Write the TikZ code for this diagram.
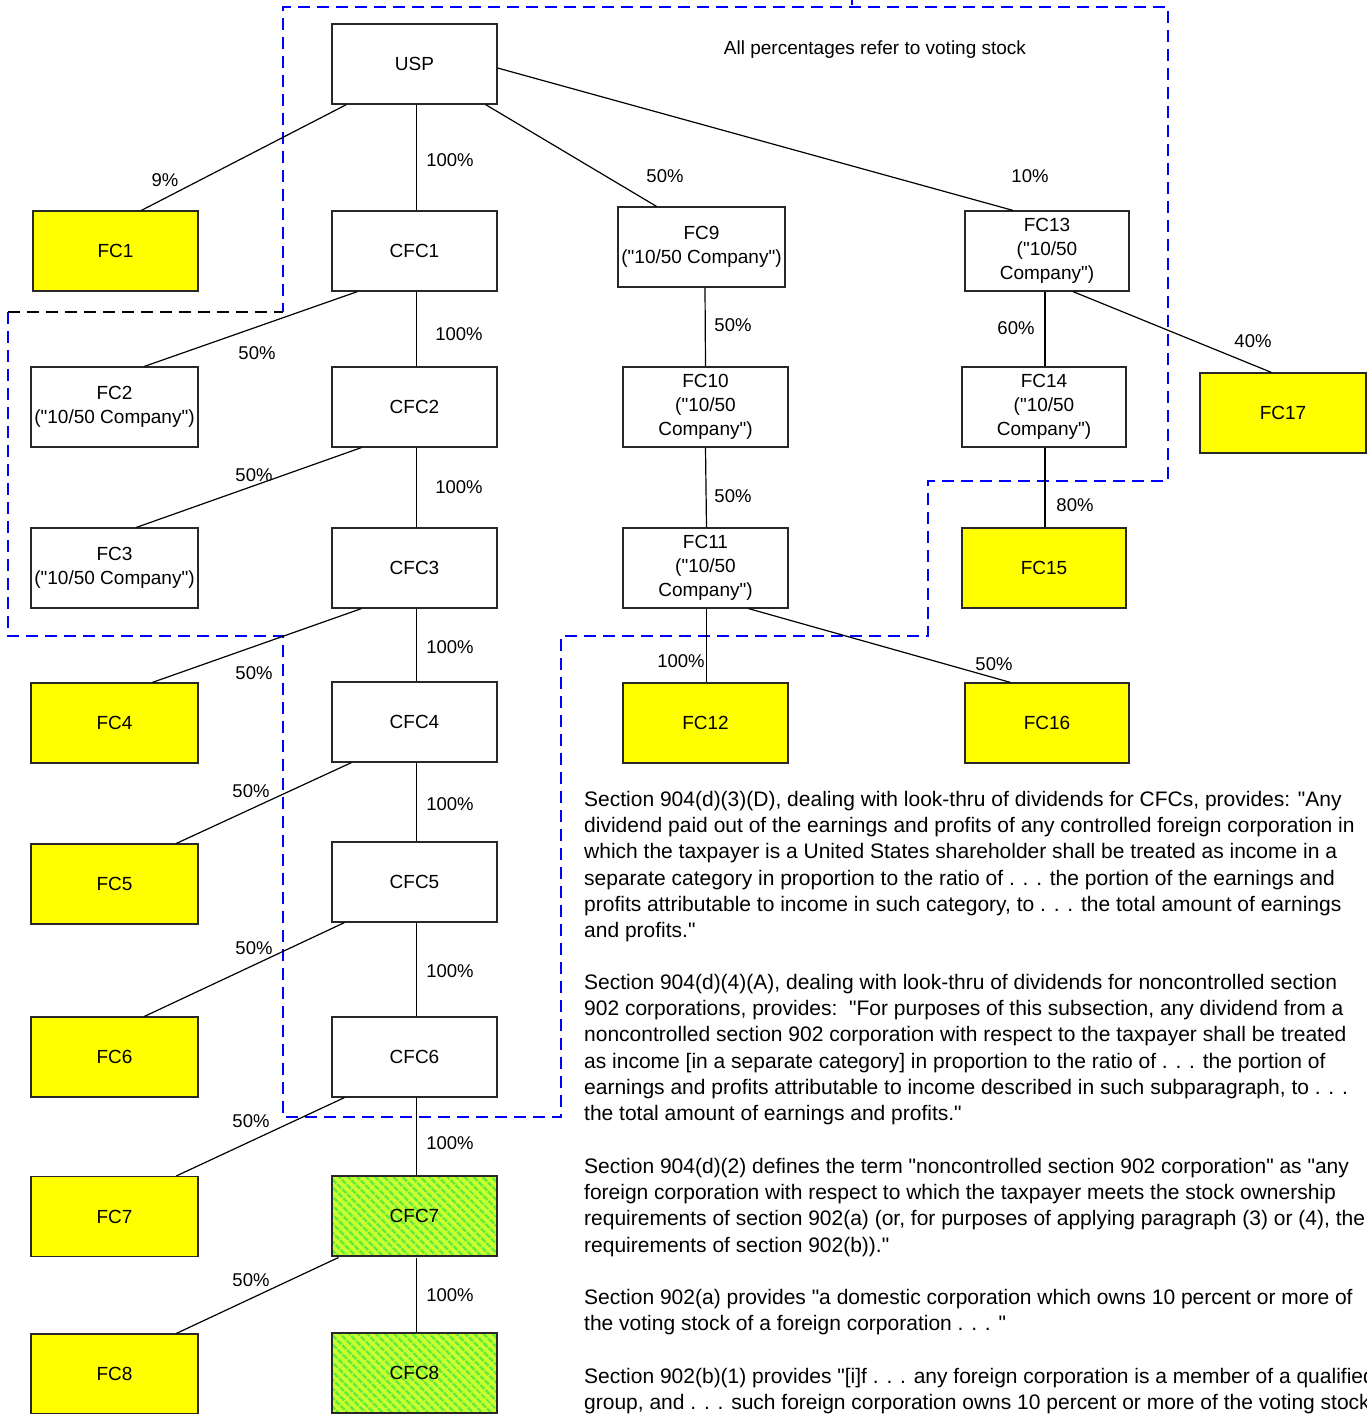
\documentclass[tikz,border=0pt]{standalone}
\usepackage{fontspec}
\setmainfont{Liberation Sans}[Ligatures=TeXOff]
\usetikzlibrary{patterns.meta}
\definecolor{fcyellow}{RGB}{255,255,0}
\definecolor{hatchbg}{RGB}{200,255,45}
\definecolor{hatchfg}{RGB}{100,235,55}
\definecolor{dashblue}{RGB}{0,0,255}
\definecolor{boxline}{RGB}{40,40,40}
\begin{document}
\begin{tikzpicture}[x=1pt,y=-1pt,
  box/.style={draw=boxline, line width=1.2pt, minimum width=165pt, minimum height=80pt,
    inner sep=0pt, align=center, font=\fontsize{19}{24}\selectfont},
  ybox/.style={box, fill=fcyellow},
  hbox/.style={box, preaction={fill=hatchbg},
    pattern={Lines[angle=-45,distance=6.5pt,line width=3pt]}, pattern color=hatchfg},
  conn/.style={draw=black, line width=1.2pt},
  pct/.style={inner sep=0pt, font=\fontsize{18.5}{22}\selectfont},
  para/.style={inner sep=0pt, anchor=north west, align=left, font=\fontsize{21}{26.2}\selectfont},
  bdash/.style={draw=dashblue, line width=2.6pt, dash pattern=on 12pt off 7pt},
  kdash/.style={draw=black, line width=2.6pt, dash pattern=on 12pt off 7pt}
]
\useasboundingbox (0,0) rectangle (1367,1414);

% dashed outlines
\draw[bdash] (8,312) -- (8,636) -- (283,636) -- (283,1117) -- (561,1117) -- (561,636)
  -- (928,636) -- (928,481) -- (1168,481) -- (1168,7) -- (283,7) -- (283,312);
\draw[kdash] (8,312) -- (283,312);
\draw[dashblue, line width=2.6pt] (852,0) -- (852,5);

% nodes
\node[box] (USP) at (414.5,64) {USP};
\node[ybox] (FC1) at (115.5,251) {FC1};
\node[box] (CFC1) at (414.5,251) {CFC1};
\node[box, minimum width=167pt] (FC9) at (701.5,247) {FC9\\("10/50 Company")};
\node[box, minimum width=164pt] (FC13) at (1047,251) {FC13\\("10/50\\Company")};
\node[box, minimum width=167pt] (FC2) at (114.5,407) {FC2\\("10/50 Company")};
\node[box] (CFC2) at (414.5,407) {CFC2};
\node[box] (FC10) at (705.5,407) {FC10\\("10/50\\Company")};
\node[box, minimum width=164pt] (FC14) at (1044,407) {FC14\\("10/50\\Company")};
\node[ybox, minimum width=166pt] (FC17) at (1283,413) {FC17};
\node[box, minimum width=167pt] (FC3) at (114.5,568) {FC3\\("10/50 Company")};
\node[box] (CFC3) at (414.5,568) {CFC3};
\node[box] (FC11) at (705.5,568) {FC11\\("10/50\\Company")};
\node[ybox, minimum width=164pt] (FC15) at (1044,568) {FC15};
\node[ybox, minimum width=167pt] (FC4) at (114.5,723) {FC4};
\node[box] (CFC4) at (414.5,722) {CFC4};
\node[ybox] (FC12) at (705.5,723) {FC12};
\node[ybox, minimum width=164pt] (FC16) at (1047,723) {FC16};
\node[ybox, minimum width=167pt] (FC5) at (114.5,884) {FC5};
\node[box] (CFC5) at (414.5,882) {CFC5};
\node[ybox, minimum width=167pt] (FC6) at (114.5,1057) {FC6};
\node[box] (CFC6) at (414.5,1057) {CFC6};
\node[ybox, minimum width=167pt] (FC7) at (114.5,1216.5) {FC7};
\node[hbox] (CFC7) at (414.5,1216) {CFC7};
\node[ybox, minimum width=167pt] (FC8) at (114.5,1374) {FC8};
\node[hbox] (CFC8) at (414.5,1373) {CFC8};

% connectors
\draw[conn] ([xshift=15pt]USP.south west) -- ([xshift=109pt]FC1.north west);
\draw[conn] ([xshift=2pt]USP.south) -- ([xshift=2pt]CFC1.north);
\draw[conn] ([xshift=-12pt]USP.south east) -- ([xshift=-45pt]FC9.north);
\draw[conn] ([yshift=-4pt]USP.east) -- ([xshift=-34pt]FC13.north);
\draw[conn] ([xshift=26pt]CFC1.south west) -- ([xshift=114pt]FC2.north west);
\draw[conn] ([xshift=2pt]CFC1.south) -- ([xshift=2pt]CFC2.north);
\draw[conn] ([xshift=30pt]CFC2.south west) -- ([xshift=106pt]FC3.north west);
\draw[conn] ([xshift=2pt]CFC2.south) -- ([xshift=2pt]CFC3.north);
\draw[conn] ([xshift=30pt]CFC3.south west) -- ([xshift=122pt]FC4.north west);
\draw[conn] ([xshift=2pt]CFC3.south) -- ([xshift=2pt]CFC4.north);
\draw[conn] ([xshift=20pt]CFC4.south west) -- ([xshift=146pt]FC5.north west);
\draw[conn] ([xshift=2pt]CFC4.south) -- ([xshift=2pt]CFC5.north);
\draw[conn] ([xshift=13pt]CFC5.south west) -- ([xshift=114pt]FC6.north west);
\draw[conn] ([xshift=2pt]CFC5.south) -- ([xshift=2pt]CFC6.north);
\draw[conn] ([xshift=13pt]CFC6.south west) -- ([xshift=146pt]FC7.north west);
\draw[conn] ([xshift=2pt]CFC6.south) -- ([xshift=2pt]CFC7.north);
\draw[conn] ([xshift=8pt]CFC7.south west) -- ([xshift=146pt]FC8.north west);
\draw[conn] ([xshift=2pt]CFC7.south) -- ([xshift=2pt]CFC8.north);
\draw[conn] ([xshift=3.5pt]FC9.south) -- (FC10.north);
\draw[conn] (FC10.south) -- ([xshift=1pt]FC11.north);
\draw[conn] ([xshift=1pt]FC11.south) -- ([xshift=1pt]FC12.north);
\draw[conn] ([xshift=-40pt]FC11.south east) -- ([xshift=46pt]FC16.north west);
\draw[conn] ([xshift=-2pt]FC13.south) -- ([xshift=1pt]FC14.north);
\draw[conn] ([xshift=26pt]FC13.south) -- ([xshift=72pt]FC17.north west);
\draw[conn] ([xshift=1pt]FC14.south) -- ([xshift=1pt]FC15.north);

% percentage labels
\node[pct] (l1) at (165,180) {9\%};
\node[pct] (l2) at (450,160) {100\%};
\node[pct] (l3) at (665,176) {50\%};
\node[pct] (l4) at (1030,176) {10\%};
\node[pct] (l5) at (257,353) {50\%};
\node[pct] (l6) at (459,334) {100\%};
\node[pct] (l7) at (254,475) {50\%};
\node[pct] (l8) at (459,487) {100\%};
\node[pct] (l9) at (254,673) {50\%};
\node[pct] (l10) at (450,647) {100\%};
\node[pct] (l11) at (251,791) {50\%};
\node[pct] (l12) at (450,804) {100\%};
\node[pct] (l13) at (254,948) {50\%};
\node[pct] (l14) at (450,971) {100\%};
\node[pct] (l15) at (251,1121) {50\%};
\node[pct] (l16) at (450,1143) {100\%};
\node[pct] (l17) at (251,1280) {50\%};
\node[pct] (l18) at (450,1295) {100\%};
\node[pct] (l19) at (733,325) {50\%};
\node[pct] (l20) at (733,496) {50\%};
\node[pct] (l21) at (681,661) {100\%};
\node[pct] (l22) at (994,664) {50\%};
\node[pct] (l23) at (1016,328) {60\%};
\node[pct] (l24) at (1253,341) {40\%};
\node[pct] (l25) at (1075,505) {80\%};

\node[pct, font=\fontsize{19}{22}\selectfont] (note) at (875,50) {All percentages refer to voting stock};

% paragraphs
\node[para] (p1) at (584,791) {Section 904(d)(3)(D), dealing with look-thru of dividends for CFCs, provides: "Any\\
dividend paid out of the earnings and profits of any controlled foreign corporation in\\
which the taxpayer is a United States shareholder shall be treated as income in a\\
separate category in proportion to the ratio of . . . the portion of the earnings and\\
profits attributable to income in such category, to . . . the total amount of earnings\\
and profits."};
\node[para] (p2) at (584,974) {Section 904(d)(4)(A), dealing with look-thru of dividends for noncontrolled section\\
902 corporations, provides:\ \ "For purposes of this subsection, any dividend from a\\
noncontrolled section 902 corporation with respect to the taxpayer shall be treated\\
as income [in a separate category] in proportion to the ratio of . . . the portion of\\
earnings and profits attributable to income described in such subparagraph, to . . .\\
the total amount of earnings and profits."};
\node[para] (p3) at (584,1158) {Section 904(d)(2) defines the term "noncontrolled section 902 corporation" as "any\\
foreign corporation with respect to which the taxpayer meets the stock ownership\\
requirements of section 902(a) (or, for purposes of applying paragraph (3) or (4), the\\
requirements of section 902(b))."};
\node[para] (p4) at (584,1289) {Section 902(a) provides "a domestic corporation which owns 10 percent or more of\\
the voting stock of a foreign corporation . . . "};
\node[para] (p5) at (584,1368) {Section 902(b)(1) provides "[i]f . . . any foreign corporation is a member of a qualified\\
group, and . . . such foreign corporation owns 10 percent or more of the voting stock};
\end{tikzpicture}
\end{document}
